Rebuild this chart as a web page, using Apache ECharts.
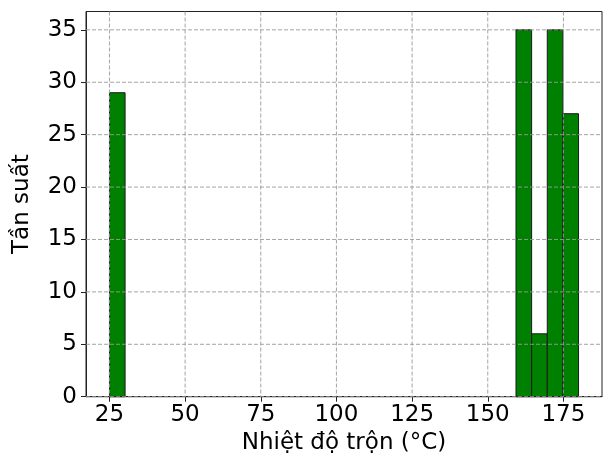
<!DOCTYPE html>
<html><head><meta charset="utf-8">
<script src="https://cdn.jsdelivr.net/npm/echarts@6/dist/echarts.min.js"></script>
<style>html,body{margin:0;padding:0;background:#fff}#c{width:603px;height:464px}</style>
</head><body><div id="c"></div>
<script>
// Histogram bins (30 bins between 25 and 180; only non-empty ones listed)
const binLefts  = [25, 159.333, 164.5, 169.667, 174.833];
const binRights = [30.167, 164.5, 169.667, 174.833, 180];
const counts    = [29, 35, 6, 35, 27];
const xTicks = [25, 50, 75, 100, 125, 150, 175];
const yTicks = [0, 5, 10, 15, 20, 25, 30, 35];
const xLabel = 'Nhiệt độ trộn (°C)';
const yLabel = 'Tần suất';

const FONT = 'DejaVu Sans';
const FS = 23;
const chart = echarts.init(document.getElementById('c'), null, {renderer: 'canvas'});

const barData = binLefts.map((l, i) => [l, binRights[i], counts[i]]);
const gridStyle = {stroke: '#9a9a9a', lineWidth: 0.9, lineDash: [4, 2]};

chart.setOption({
  animation: false,
  grid: {left: 86, right: 1, top: 11.5, bottom: 67.3, show: true, borderColor: '#222', borderWidth: 1, backgroundColor: 'transparent'},
  xAxis: {
    type: 'value', min: 17.25, max: 187.75,
    axisLine: {show: true, lineStyle: {color: '#222', width: 1}},
    axisTick: {show: true, length: 5, inside: false, customValues: xTicks, lineStyle: {color: '#222'}},
    axisLabel: {customValues: xTicks, fontFamily: FONT, fontSize: FS, color: '#000', margin: 7},
    splitLine: {show: false},
    name: xLabel, nameLocation: 'middle', nameGap: 35,
    nameTextStyle: {fontFamily: FONT, fontSize: FS, color: '#000'}
  },
  yAxis: {
    type: 'value', min: 0, max: 36.75,
    axisLine: {show: true, lineStyle: {color: '#222', width: 1}},
    axisTick: {show: true, length: 5, inside: false, customValues: yTicks, lineStyle: {color: '#222'}},
    axisLabel: {customValues: yTicks, fontFamily: FONT, fontSize: FS, color: '#000', margin: 9},
    splitLine: {show: false},
    name: yLabel, nameLocation: 'middle', nameGap: 52,
    nameTextStyle: {fontFamily: FONT, fontSize: FS, color: '#000'}
  },
  series: [
    {
      type: 'custom', z: 2,
      data: barData,
      encode: {x: [0, 1], y: 2},
      renderItem: function (params, api) {
        const p0 = api.coord([api.value(0), 0]);
        const p1 = api.coord([api.value(1), api.value(2)]);
        return {type: 'rect', shape: {x: p0[0], y: p1[1], width: p1[0] - p0[0], height: p0[1] - p1[1]},
          style: {fill: '#008000', stroke: '#1a1a1a', lineWidth: 1}};
      }
    },
    {
      type: 'custom', z: 5, silent: true,
      data: xTicks.map(v => [v, 0]),
      encode: {x: 0, y: 1},
      renderItem: function (params, api) {
        const p = api.coord([api.value(0), 0]);
        const cs = params.coordSys;
        return {type: 'line', shape: {x1: p[0], y1: cs.y, x2: p[0], y2: cs.y + cs.height}, style: gridStyle};
      }
    },
    {
      type: 'custom', z: 5, silent: true,
      data: yTicks.map(v => [20, v]),
      encode: {x: 0, y: 1},
      renderItem: function (params, api) {
        const p = api.coord([20, api.value(1)]);
        const cs = params.coordSys;
        return {type: 'line', shape: {x1: cs.x, y1: p[1], x2: cs.x + cs.width, y2: p[1]}, style: gridStyle};
      }
    }
  ]
});
</script>
</body></html>
